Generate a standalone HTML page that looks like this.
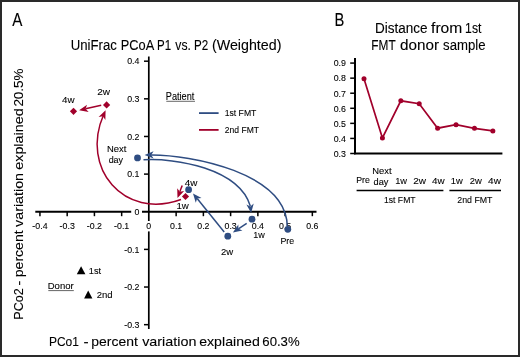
<!DOCTYPE html>
<html><head><meta charset="utf-8"><style>
html,body{margin:0;padding:0;background:#fff;}
svg{display:block;font-family:"Liberation Sans",sans-serif;will-change:transform;}
</style></head><body>
<svg width="520" height="357" viewBox="0 0 520 357">
<rect x="0" y="0" width="520" height="357" fill="#fff"/>
<text x="12.20" y="25.60" font-size="17.5" textLength="10.16" lengthAdjust="spacingAndGlyphs" fill="#000" stroke="#000" stroke-width="0.1">A</text>
<text x="70.76" y="49.90" font-size="14" textLength="46.12" lengthAdjust="spacingAndGlyphs" fill="#000" stroke="#000" stroke-width="0.1">UniFrac</text>
<text x="120.79" y="49.90" font-size="14" textLength="33.47" lengthAdjust="spacingAndGlyphs" fill="#000" stroke="#000" stroke-width="0.1">PCoA</text>
<text x="157.09" y="49.90" font-size="14" textLength="14.10" lengthAdjust="spacingAndGlyphs" fill="#000" stroke="#000" stroke-width="0.1">P1</text>
<text x="175.31" y="49.90" font-size="14" textLength="15.61" lengthAdjust="spacingAndGlyphs" fill="#000" stroke="#000" stroke-width="0.1">vs.</text>
<text x="194.09" y="49.90" font-size="14" textLength="14.21" lengthAdjust="spacingAndGlyphs" fill="#000" stroke="#000" stroke-width="0.1">P2</text>
<text x="211.98" y="49.90" font-size="14" textLength="69.45" lengthAdjust="spacingAndGlyphs" fill="#000" stroke="#000" stroke-width="0.1">(Weighted)</text>
<text x="48.91" y="345.80" font-size="13.4" textLength="30.04" lengthAdjust="spacingAndGlyphs" fill="#000" stroke="#000" stroke-width="0.1">PCo1</text>
<text x="83.41" y="345.80" font-size="13.4" textLength="5.14" lengthAdjust="spacingAndGlyphs" fill="#000" stroke="#000" stroke-width="0.1">-</text>
<text x="91.26" y="345.80" font-size="13.4" textLength="46.54" lengthAdjust="spacingAndGlyphs" fill="#000" stroke="#000" stroke-width="0.1">percent</text>
<text x="142.19" y="345.80" font-size="13.4" textLength="54.22" lengthAdjust="spacingAndGlyphs" fill="#000" stroke="#000" stroke-width="0.1">variation</text>
<text x="199.17" y="345.80" font-size="13.4" textLength="60.66" lengthAdjust="spacingAndGlyphs" fill="#000" stroke="#000" stroke-width="0.1">explained</text>
<text x="262.31" y="345.80" font-size="13.4" textLength="37.38" lengthAdjust="spacingAndGlyphs" fill="#000" stroke="#000" stroke-width="0.1">60.3%</text>
<text transform="translate(23.4,319.63) rotate(-90)" x="0" y="0" font-size="13.4" textLength="31.41" lengthAdjust="spacingAndGlyphs" fill="#000" stroke="#000" stroke-width="0.1">PCo2</text>
<text transform="translate(23.4,285.69) rotate(-90)" x="0" y="0" font-size="13.4" textLength="5.14" lengthAdjust="spacingAndGlyphs" fill="#000" stroke="#000" stroke-width="0.1">-</text>
<text transform="translate(23.4,277.24) rotate(-90)" x="0" y="0" font-size="13.4" textLength="46.85" lengthAdjust="spacingAndGlyphs" fill="#000" stroke="#000" stroke-width="0.1">percent</text>
<text transform="translate(23.4,226.91) rotate(-90)" x="0" y="0" font-size="13.4" textLength="53.91" lengthAdjust="spacingAndGlyphs" fill="#000" stroke="#000" stroke-width="0.1">variation</text>
<text transform="translate(23.4,169.74) rotate(-90)" x="0" y="0" font-size="13.4" textLength="61.37" lengthAdjust="spacingAndGlyphs" fill="#000" stroke="#000" stroke-width="0.1">explained</text>
<text transform="translate(23.4,106.60) rotate(-90)" x="0" y="0" font-size="13.4" textLength="38.10" lengthAdjust="spacingAndGlyphs" fill="#000" stroke="#000" stroke-width="0.1">20.5%</text>
<line x1="148.8" y1="56.5" x2="148.8" y2="221" stroke="#000" stroke-width="1.7"/>
<line x1="148.8" y1="231.4" x2="148.8" y2="329" stroke="#000" stroke-width="1.7"/>
<line x1="35.3" y1="211.75" x2="131.2" y2="211.75" stroke="#000" stroke-width="1.8"/>
<line x1="142" y1="211.75" x2="316.5" y2="211.75" stroke="#000" stroke-width="1.8"/>
<line x1="144" y1="61.19" x2="149" y2="61.19" stroke="#000" stroke-width="1.5"/>
<text transform="translate(139.40,64.49) scale(0.9,1)" font-size="9.8" text-anchor="end" fill="#000" stroke="#000" stroke-width="0.1">0.4</text>
<line x1="144" y1="98.83" x2="149" y2="98.83" stroke="#000" stroke-width="1.5"/>
<text transform="translate(139.40,102.13) scale(0.9,1)" font-size="9.8" text-anchor="end" fill="#000" stroke="#000" stroke-width="0.1">0.3</text>
<line x1="144" y1="136.47" x2="149" y2="136.47" stroke="#000" stroke-width="1.5"/>
<text transform="translate(139.40,139.77) scale(0.9,1)" font-size="9.8" text-anchor="end" fill="#000" stroke="#000" stroke-width="0.1">0.2</text>
<line x1="144" y1="174.11" x2="149" y2="174.11" stroke="#000" stroke-width="1.5"/>
<text transform="translate(139.40,177.41) scale(0.9,1)" font-size="9.8" text-anchor="end" fill="#000" stroke="#000" stroke-width="0.1">0.1</text>
<line x1="144" y1="249.39" x2="149" y2="249.39" stroke="#000" stroke-width="1.5"/>
<text transform="translate(139.40,252.69) scale(0.9,1)" font-size="9.8" text-anchor="end" fill="#000" stroke="#000" stroke-width="0.1">-0.1</text>
<line x1="144" y1="287.03" x2="149" y2="287.03" stroke="#000" stroke-width="1.5"/>
<text transform="translate(139.40,290.33) scale(0.9,1)" font-size="9.8" text-anchor="end" fill="#000" stroke="#000" stroke-width="0.1">-0.2</text>
<line x1="144" y1="324.67" x2="149" y2="324.67" stroke="#000" stroke-width="1.5"/>
<text transform="translate(139.40,327.97) scale(0.9,1)" font-size="9.8" text-anchor="end" fill="#000" stroke="#000" stroke-width="0.1">-0.3</text>
<text transform="translate(139.40,215.05) scale(0.9,1)" font-size="9.8" text-anchor="end" fill="#000" stroke="#000" stroke-width="0.1">0</text>
<line x1="39.94" y1="211.75" x2="39.94" y2="216.2" stroke="#000" stroke-width="1.5"/>
<text transform="translate(39.94,229.30) scale(0.9,1)" font-size="9.8" text-anchor="middle" fill="#000" stroke="#000" stroke-width="0.1">-0.4</text>
<line x1="67.18" y1="211.75" x2="67.18" y2="216.2" stroke="#000" stroke-width="1.5"/>
<text transform="translate(67.18,229.30) scale(0.9,1)" font-size="9.8" text-anchor="middle" fill="#000" stroke="#000" stroke-width="0.1">-0.3</text>
<line x1="94.42" y1="211.75" x2="94.42" y2="216.2" stroke="#000" stroke-width="1.5"/>
<text transform="translate(94.42,229.30) scale(0.9,1)" font-size="9.8" text-anchor="middle" fill="#000" stroke="#000" stroke-width="0.1">-0.2</text>
<line x1="121.66" y1="211.75" x2="121.66" y2="216.2" stroke="#000" stroke-width="1.5"/>
<text transform="translate(121.66,229.30) scale(0.9,1)" font-size="9.8" text-anchor="middle" fill="#000" stroke="#000" stroke-width="0.1">-0.1</text>
<line x1="176.14" y1="211.75" x2="176.14" y2="216.2" stroke="#000" stroke-width="1.5"/>
<text transform="translate(176.14,229.30) scale(0.9,1)" font-size="9.8" text-anchor="middle" fill="#000" stroke="#000" stroke-width="0.1">0.1</text>
<line x1="203.38" y1="211.75" x2="203.38" y2="216.2" stroke="#000" stroke-width="1.5"/>
<text transform="translate(203.38,229.30) scale(0.9,1)" font-size="9.8" text-anchor="middle" fill="#000" stroke="#000" stroke-width="0.1">0.2</text>
<line x1="230.62" y1="211.75" x2="230.62" y2="216.2" stroke="#000" stroke-width="1.5"/>
<text transform="translate(230.62,229.30) scale(0.9,1)" font-size="9.8" text-anchor="middle" fill="#000" stroke="#000" stroke-width="0.1">0.3</text>
<line x1="257.86" y1="211.75" x2="257.86" y2="216.2" stroke="#000" stroke-width="1.5"/>
<text transform="translate(257.86,229.30) scale(0.9,1)" font-size="9.8" text-anchor="middle" fill="#000" stroke="#000" stroke-width="0.1">0.4</text>
<line x1="285.10" y1="211.75" x2="285.10" y2="216.2" stroke="#000" stroke-width="1.5"/>
<text transform="translate(285.10,229.30) scale(0.9,1)" font-size="9.8" text-anchor="middle" fill="#000" stroke="#000" stroke-width="0.1">0.5</text>
<line x1="312.34" y1="211.75" x2="312.34" y2="216.2" stroke="#000" stroke-width="1.5"/>
<text transform="translate(312.34,229.30) scale(0.9,1)" font-size="9.8" text-anchor="middle" fill="#000" stroke="#000" stroke-width="0.1">0.6</text>
<text transform="translate(148.80,229.30) scale(0.9,1)" font-size="9.8" text-anchor="middle" fill="#000" stroke="#000" stroke-width="0.1">0</text>
<text x="165.77" y="100.00" font-size="10" textLength="28.56" lengthAdjust="spacingAndGlyphs" fill="#000" stroke="#000" stroke-width="0.1">Patient</text>
<line x1="166.3" y1="101.3" x2="195" y2="101.3" stroke="#333" stroke-width="0.75"/>
<line x1="199" y1="113.1" x2="218.6" y2="113.1" stroke="#2f4d82" stroke-width="1.8"/>
<line x1="199" y1="129.9" x2="218.6" y2="129.9" stroke="#a1002b" stroke-width="1.8"/>
<text x="224.68" y="116.40" font-size="9.8" textLength="31.72" lengthAdjust="spacingAndGlyphs" fill="#000" stroke="#000" stroke-width="0.1">1st FMT</text>
<text x="224.86" y="133.00" font-size="9.8" textLength="34.22" lengthAdjust="spacingAndGlyphs" fill="#000" stroke="#000" stroke-width="0.1">2nd FMT</text>
<text x="47.72" y="289.10" font-size="9.8" textLength="25.96" lengthAdjust="spacingAndGlyphs" fill="#000" stroke="#000" stroke-width="0.1">Donor</text>
<line x1="48.3" y1="290.6" x2="73.8" y2="290.6" stroke="#333" stroke-width="0.75"/>
<polygon points="81.1,266.2 85.4,274.2 76.8,274.2" fill="#000"/>
<polygon points="88.2,290.6 92.4,298.5 84.1,298.5" fill="#000"/>
<text x="88.84" y="273.50" font-size="9.8" textLength="12.34" lengthAdjust="spacingAndGlyphs" fill="#000" stroke="#000" stroke-width="0.1">1st</text>
<text x="96.71" y="297.70" font-size="9.8" textLength="15.92" lengthAdjust="spacingAndGlyphs" fill="#000" stroke="#000" stroke-width="0.1">2nd</text>
<polygon points="144.60,154.94 153.57,151.18 151.20,154.89 153.63,158.58" fill="#2f4d82"/>
<path d="M287.30,226.60 C286.80,172.70 190.70,154.60 150.50,154.90" fill="none" stroke="#2f4d82" stroke-width="1.5"/>
<polygon points="251.14,212.95 246.39,204.46 250.35,206.40 253.73,203.57" fill="#2f4d82"/>
<path d="M143.50,159.80 C175.30,157.80 238.90,168.40 250.30,206.00" fill="none" stroke="#2f4d82" stroke-width="1.5"/>
<polygon points="232.90,232.50 238.34,224.43 238.39,228.84 242.44,230.59" fill="#2f4d82"/>
<line x1="246.70" y1="223.30" x2="238.39" y2="228.84" stroke="#2f4d82" stroke-width="1.5"/>
<polygon points="193.00,193.40 201.54,198.07 197.15,198.53 195.78,202.73" fill="#2f4d82"/>
<line x1="224.20" y1="232.00" x2="197.15" y2="198.53" stroke="#2f4d82" stroke-width="1.5"/>
<polygon points="105.59,110.24 105.36,119.97 102.94,116.28 98.58,116.99" fill="#a1002b"/>
<path d="M181.00,199.50 C123.50,220.30 80.40,167.60 103.50,115.00" fill="none" stroke="#a1002b" stroke-width="1.5"/>
<polygon points="79.10,110.30 87.06,104.71 85.54,108.84 88.69,111.92" fill="#a1002b"/>
<line x1="101.20" y1="105.30" x2="85.54" y2="108.84" stroke="#a1002b" stroke-width="1.5"/>
<polygon points="177.50,198.00 177.20,188.27 179.82,191.82 184.13,190.88" fill="#a1002b"/>
<line x1="182.20" y1="185.50" x2="179.82" y2="191.82" stroke="#a1002b" stroke-width="1.5"/>
<circle cx="287.8" cy="229.3" r="3.4" fill="#2f4d82"/>
<circle cx="137.5" cy="157.9" r="3.4" fill="#2f4d82"/>
<circle cx="252" cy="219.2" r="3.4" fill="#2f4d82"/>
<circle cx="227.8" cy="236.2" r="3.4" fill="#2f4d82"/>
<circle cx="188.6" cy="189.7" r="3.4" fill="#2f4d82"/>
<polygon points="185.5,192.9 189.1,196.5 185.5,200.1 181.9,196.5" fill="#a1002b"/>
<polygon points="106.6,101.30000000000001 110.19999999999999,104.9 106.6,108.5 103.0,104.9" fill="#a1002b"/>
<polygon points="73.5,107.7 77.1,111.3 73.5,114.89999999999999 69.9,111.3" fill="#a1002b"/>
<text x="280.48" y="243.90" font-size="9.8" textLength="13.73" lengthAdjust="spacingAndGlyphs" fill="#000" stroke="#000" stroke-width="0.1">Pre</text>
<text x="107.03" y="151.70" font-size="9.8" textLength="19.31" lengthAdjust="spacingAndGlyphs" fill="#000" stroke="#000" stroke-width="0.1">Next</text>
<text x="108.63" y="163.30" font-size="9.8" textLength="14.47" lengthAdjust="spacingAndGlyphs" fill="#000" stroke="#000" stroke-width="0.1">day</text>
<text x="253.25" y="238.10" font-size="9.8" textLength="11.58" lengthAdjust="spacingAndGlyphs" fill="#000" stroke="#000" stroke-width="0.1">1w</text>
<text x="221.01" y="254.50" font-size="9.8" textLength="12.22" lengthAdjust="spacingAndGlyphs" fill="#000" stroke="#000" stroke-width="0.1">2w</text>
<text x="184.80" y="185.80" font-size="9.8" textLength="12.63" lengthAdjust="spacingAndGlyphs" fill="#000" stroke="#000" stroke-width="0.1">4w</text>
<text x="176.41" y="209.40" font-size="9.8" textLength="12.42" lengthAdjust="spacingAndGlyphs" fill="#000" stroke="#000" stroke-width="0.1">1w</text>
<text x="62.10" y="102.80" font-size="9.8" textLength="12.53" lengthAdjust="spacingAndGlyphs" fill="#000" stroke="#000" stroke-width="0.1">4w</text>
<text x="97.29" y="94.80" font-size="9.8" textLength="12.84" lengthAdjust="spacingAndGlyphs" fill="#000" stroke="#000" stroke-width="0.1">2w</text>
<text x="334.62" y="25.60" font-size="17.5" textLength="9.81" lengthAdjust="spacingAndGlyphs" fill="#000" stroke="#000" stroke-width="0.1">B</text>
<text x="374.92" y="32.90" font-size="13.8" textLength="52.55" lengthAdjust="spacingAndGlyphs" fill="#000" stroke="#000" stroke-width="0.1">Distance</text>
<text x="431.07" y="32.90" font-size="13.8" textLength="31.25" lengthAdjust="spacingAndGlyphs" fill="#000" stroke="#000" stroke-width="0.1">from</text>
<text x="465.12" y="32.90" font-size="13.8" textLength="16.28" lengthAdjust="spacingAndGlyphs" fill="#000" stroke="#000" stroke-width="0.1">1st</text>
<text x="371.36" y="49.90" font-size="13.8" textLength="24.35" lengthAdjust="spacingAndGlyphs" fill="#000" stroke="#000" stroke-width="0.1">FMT</text>
<text x="400.14" y="49.90" font-size="13.8" textLength="38.98" lengthAdjust="spacingAndGlyphs" fill="#000" stroke="#000" stroke-width="0.1">donor</text>
<text x="443.12" y="49.90" font-size="13.8" textLength="42.44" lengthAdjust="spacingAndGlyphs" fill="#000" stroke="#000" stroke-width="0.1">sample</text>
<line x1="355" y1="58.1" x2="355" y2="154.3" stroke="#000" stroke-width="2"/>
<line x1="354" y1="153.5" x2="502.4" y2="153.5" stroke="#000" stroke-width="1.8"/>
<line x1="350.2" y1="153.50" x2="355" y2="153.50" stroke="#000" stroke-width="1.5"/>
<text transform="translate(345.90,156.80) scale(0.9,1)" font-size="9.8" text-anchor="end" fill="#000" stroke="#000" stroke-width="0.1">0.3</text>
<line x1="350.2" y1="138.43" x2="355" y2="138.43" stroke="#000" stroke-width="1.5"/>
<text transform="translate(345.90,141.73) scale(0.9,1)" font-size="9.8" text-anchor="end" fill="#000" stroke="#000" stroke-width="0.1">0.4</text>
<line x1="350.2" y1="123.36" x2="355" y2="123.36" stroke="#000" stroke-width="1.5"/>
<text transform="translate(345.90,126.66) scale(0.9,1)" font-size="9.8" text-anchor="end" fill="#000" stroke="#000" stroke-width="0.1">0.5</text>
<line x1="350.2" y1="108.29" x2="355" y2="108.29" stroke="#000" stroke-width="1.5"/>
<text transform="translate(345.90,111.59) scale(0.9,1)" font-size="9.8" text-anchor="end" fill="#000" stroke="#000" stroke-width="0.1">0.6</text>
<line x1="350.2" y1="93.22" x2="355" y2="93.22" stroke="#000" stroke-width="1.5"/>
<text transform="translate(345.90,96.52) scale(0.9,1)" font-size="9.8" text-anchor="end" fill="#000" stroke="#000" stroke-width="0.1">0.7</text>
<line x1="350.2" y1="78.15" x2="355" y2="78.15" stroke="#000" stroke-width="1.5"/>
<text transform="translate(345.90,81.45) scale(0.9,1)" font-size="9.8" text-anchor="end" fill="#000" stroke="#000" stroke-width="0.1">0.8</text>
<line x1="350.2" y1="63.08" x2="355" y2="63.08" stroke="#000" stroke-width="1.5"/>
<text transform="translate(345.90,66.38) scale(0.9,1)" font-size="9.8" text-anchor="end" fill="#000" stroke="#000" stroke-width="0.1">0.9</text>
<polyline points="364.00,78.80 382.41,137.90 400.82,100.80 419.23,103.70 437.64,128.20 456.05,124.70 474.46,128.30 492.87,130.90" fill="none" stroke="#a1002b" stroke-width="1.7"/>
<circle cx="364.0" cy="78.8" r="2.5" fill="#a1002b"/>
<circle cx="382.41" cy="137.9" r="2.5" fill="#a1002b"/>
<circle cx="400.82" cy="100.8" r="2.5" fill="#a1002b"/>
<circle cx="419.23" cy="103.7" r="2.5" fill="#a1002b"/>
<circle cx="437.64" cy="128.2" r="2.5" fill="#a1002b"/>
<circle cx="456.05" cy="124.7" r="2.5" fill="#a1002b"/>
<circle cx="474.46" cy="128.3" r="2.5" fill="#a1002b"/>
<circle cx="492.87" cy="130.9" r="2.5" fill="#a1002b"/>
<text x="356.19" y="183.40" font-size="9.8" textLength="13.62" lengthAdjust="spacingAndGlyphs" fill="#000" stroke="#000" stroke-width="0.1">Pre</text>
<text x="372.23" y="173.80" font-size="9.8" textLength="19.31" lengthAdjust="spacingAndGlyphs" fill="#000" stroke="#000" stroke-width="0.1">Next</text>
<text x="373.52" y="185.10" font-size="9.8" textLength="14.88" lengthAdjust="spacingAndGlyphs" fill="#000" stroke="#000" stroke-width="0.1">day</text>
<text x="395.14" y="183.50" font-size="9.8" textLength="11.89" lengthAdjust="spacingAndGlyphs" fill="#000" stroke="#000" stroke-width="0.1">1w</text>
<text x="413.19" y="183.50" font-size="9.8" textLength="12.84" lengthAdjust="spacingAndGlyphs" fill="#000" stroke="#000" stroke-width="0.1">2w</text>
<text x="431.90" y="183.50" font-size="9.8" textLength="12.63" lengthAdjust="spacingAndGlyphs" fill="#000" stroke="#000" stroke-width="0.1">4w</text>
<text x="450.83" y="183.50" font-size="9.8" textLength="12.00" lengthAdjust="spacingAndGlyphs" fill="#000" stroke="#000" stroke-width="0.1">1w</text>
<text x="469.72" y="183.50" font-size="9.8" textLength="12.11" lengthAdjust="spacingAndGlyphs" fill="#000" stroke="#000" stroke-width="0.1">2w</text>
<text x="488.10" y="183.50" font-size="9.8" textLength="12.83" lengthAdjust="spacingAndGlyphs" fill="#000" stroke="#000" stroke-width="0.1">4w</text>
<line x1="356.6" y1="190.5" x2="443.4" y2="190.5" stroke="#000" stroke-width="1.6"/>
<line x1="449.4" y1="190.5" x2="501" y2="190.5" stroke="#000" stroke-width="1.6"/>
<text x="383.98" y="203.30" font-size="9.8" textLength="31.62" lengthAdjust="spacingAndGlyphs" fill="#000" stroke="#000" stroke-width="0.1">1st FMT</text>
<text x="457.25" y="203.40" font-size="9.8" textLength="35.24" lengthAdjust="spacingAndGlyphs" fill="#000" stroke="#000" stroke-width="0.1">2nd FMT</text>
<rect x="1" y="1" width="518" height="355" fill="none" stroke="#2a2a2a" stroke-width="2"/>
</svg>
</body></html>
